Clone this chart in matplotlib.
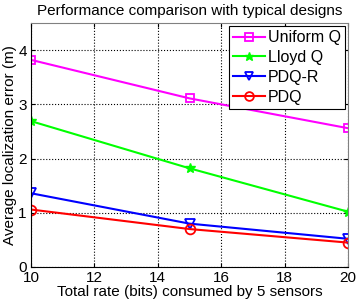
import matplotlib
matplotlib.use('Agg')
import matplotlib.pyplot as plt

# Data
rate = [10, 15, 20]
uniform_q = [3.82, 3.11, 2.56]
lloyd_q = [2.69, 1.82, 1.02]
pdq_r = [1.36, 0.80, 0.52]
pdq = [1.06, 0.70, 0.45]

plt.rcParams['font.family'] = ['Liberation Sans', 'DejaVu Sans']

fig = plt.figure(figsize=(3.56, 3.03), dpi=100)
ax = fig.add_axes([31 / 356, 1 - 267 / 303, 317 / 356, 244 / 303])

ax.plot(rate, uniform_q, '-s', color=(1, 0, 1), linewidth=1.5, markersize=6,
        markerfacecolor='none', markeredgewidth=1.3, label='Uniform Q')
ax.plot(rate, lloyd_q, '-*', color=(0, 1, 0), linewidth=1.5, markersize=7,
        label='Lloyd Q')
ax.plot(rate, pdq_r, '-v', color=(0, 0, 1), linewidth=1.5, markersize=7,
        markerfacecolor='none', markeredgewidth=1.3, label='PDQ-R')
ax.plot(rate, pdq, '-o', color=(1, 0, 0), linewidth=1.5, markersize=7,
        markerfacecolor='none', markeredgewidth=1.3, label='PDQ')

ax.set_xlim(10, 20)
ax.set_ylim(0, 4.5)
ax.set_xticks([10, 12, 14, 16, 18, 20])
ax.set_yticks([0, 1, 2, 3, 4])
ax.tick_params(direction='in', top=True, right=True, labelsize=11, length=3, pad=3)
ax.grid(True, linestyle=':', linewidth=0.8, color='black')
for s in ['top', 'right']:
    ax.spines[s].set_color('0.5')
ax.set_xlabel('Total rate (bits) consumed by 5 sensors', fontsize=11, labelpad=0)
ax.set_ylabel('Average localization error (m)', fontsize=11, labelpad=1)
ax.set_title('Performance comparison with typical designs', fontsize=11, pad=6)

leg = ax.legend(loc='upper right', fontsize=11.5, fancybox=False, framealpha=1,
                edgecolor='black', handlelength=2.0, handletextpad=0.2,
                borderpad=0.25, labelspacing=0.3, borderaxespad=0.2,
                markerscale=0.9)
leg.get_frame().set_linewidth(0.8)

fig.savefig('out.png', dpi=100)
